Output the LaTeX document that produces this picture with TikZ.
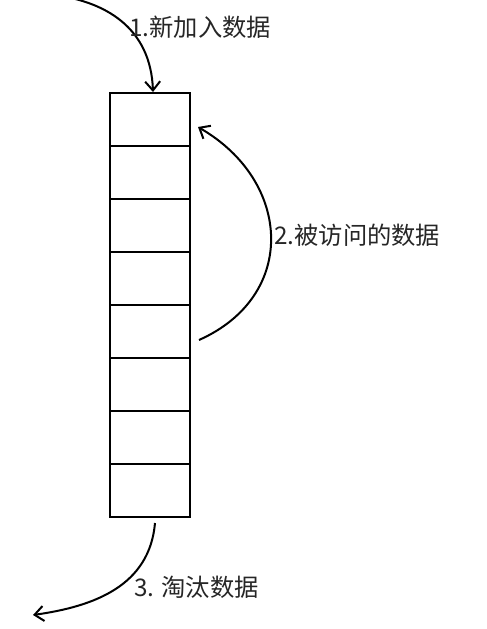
\documentclass[tikz,border=0pt]{standalone}
\usepackage{fontspec}
\newfontfamily\cjk{Noto Sans CJK SC}
\usetikzlibrary{arrows.meta}
\begin{document}
\begin{tikzpicture}[x=1pt,y=1pt]
    \tikzstyle{cell}=[rectangle,draw=black,line width=2pt,minimum width=80pt,minimum height=53pt,inner sep=0pt]
    \tikzstyle{flow}=[draw=black,line width=2pt,-{Straight Barb[length=9pt,width=15pt]}]
    \tikzstyle{note}=[anchor=west,inner sep=0pt,text=black!85,font=\cjk\fontsize{24.3}{27}\selectfont]
    \useasboundingbox (0,0) rectangle (487,-629);

    \foreach \i in {1,...,8}
        \node[cell] (c\i) at (150,{-119.5-(\i-1)*53}) {};

    \coordinate (in)  at (45,6);
    \coordinate (up)  at ([xshift=8pt,yshift=-8.5pt]c5.east);
    \coordinate (out) at ([xshift=5pt,yshift=-5pt]c8.south);
    \coordinate (gone) at (33,-615);

    \draw[flow] (in) to[out=-5,in=92,looseness=1.1] ([xshift=3pt]c1.north);
    \draw[flow] (up) to[out=24,in=-30,looseness=1.3] ([xshift=7pt,yshift=-7.5pt]c1.east);
    \draw[flow] (out) to[out=-95,in=8,looseness=1.05] (gone);

    \node[note] (add)   at (129,-27)  {1.新加入数据};
    \node[note] (visit) at (274,-235) {2.被访问的数据};
    \node[note] (evict) at (134,-587) {3. 淘汰数据};

\end{tikzpicture}
\end{document}
